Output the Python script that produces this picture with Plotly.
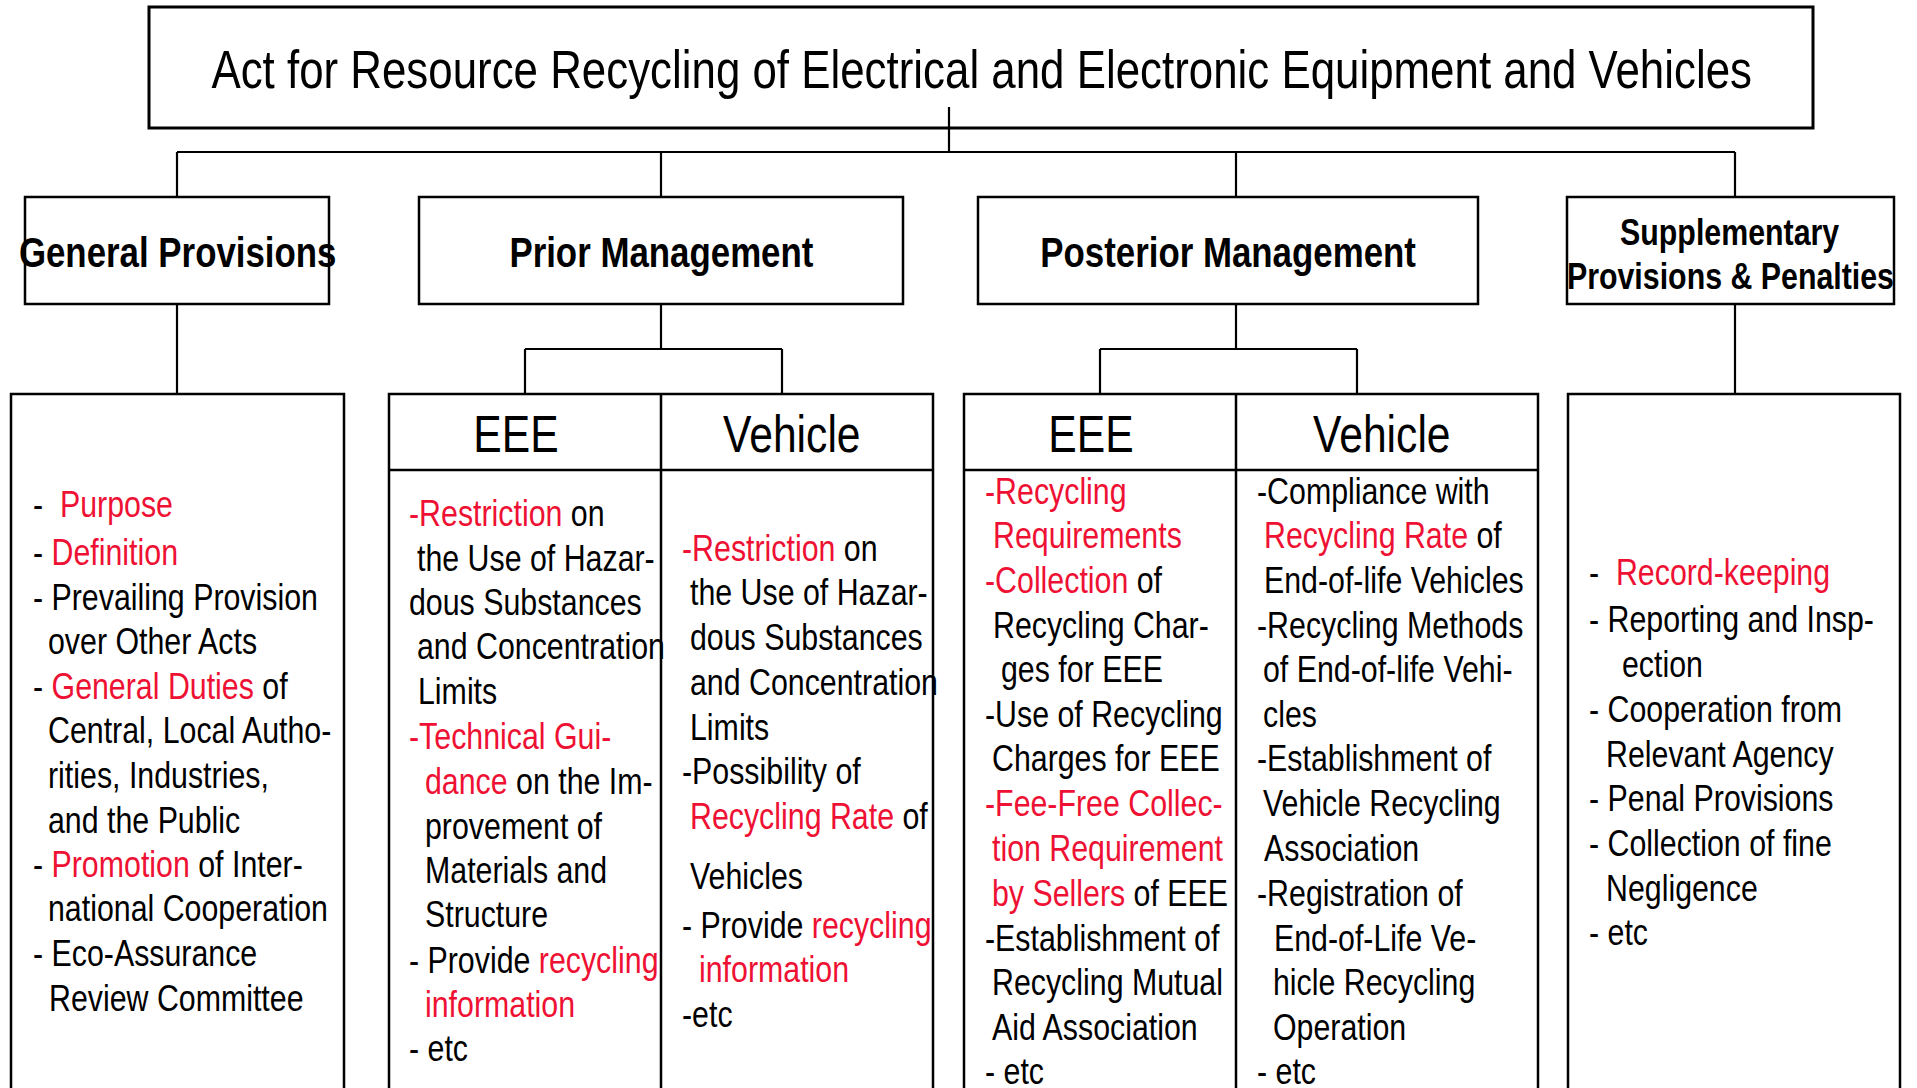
import re
import plotly.graph_objects as go

W, H = 1917, 1088
FONT = "Liberation Sans, Arial, sans-serif"
RED = "#EE1133"
SQUEEZE = 0.82  # emulate Arial Narrow from Arial-metric font

# ---------------- text content ----------------
title = "Act for Resource Recycling of Electrical and Electronic Equipment and Vehicles"
sections = ["General Provisions", "Prior Management", "Posterior Management"]
supp_title = ["Supplementary", "Provisions & Penalties"]
sub_headers = ["EEE", "Vehicle", "EEE", "Vehicle"]

# {...} marks red text
general_lines = ["-\u00a0\u00a0{Purpose}", "- {Definition}", "- Prevailing Provision", "over Other Acts",
                 "- {General Duties} of", "Central, Local Autho-", "rities, Industries,", "and the Public",
                 "- {Promotion} of Inter-", "national Cooperation", "- Eco-Assurance", "Review Committee"]
prior_eee_lines = ["{-Restriction} on", "the Use of Hazar-", "dous Substances", "and Concentration", "Limits",
                   "{-Technical Gui-}", "{dance} on the Im-", "provement of", "Materials and", "Structure",
                   "- Provide {recycling}", "{information}", "- etc"]
prior_veh_lines = ["{-Restriction} on", "the Use of Hazar-", "dous Substances", "and Concentration", "Limits",
                   "-Possibility of", "{Recycling Rate} of", "Vehicles", "- Provide {recycling}",
                   "{information}", "-etc"]
post_eee_lines = ["{-Recycling}", "{Requirements}", "{-Collection} of", "Recycling Char-", "ges for EEE",
                  "-Use of Recycling", "Charges for EEE", "{-Fee-Free Collec-}", "{tion Requirement}",
                  "{by Sellers} of EEE", "-Establishment of", "Recycling Mutual", "Aid Association", "- etc"]
post_veh_lines = ["-Compliance with", "{Recycling Rate} of", "End-of-life Vehicles", "-Recycling Methods",
                  "of End-of-life Vehi-", "cles", "-Establishment of", "Vehicle Recycling", "Association",
                  "-Registration of", "End-of-Life Ve-", "hicle Recycling", "Operation", "- etc"]
supp_lines = ["-\u00a0\u00a0{Record-keeping}", "- Reporting and Insp-", "ection", "- Cooperation from",
              "Relevant Agency", "- Penal Provisions", "- Collection of fine", "Negligence", "- etc"]

# ---------------- layout (pixel positions) ----------------
general_x = [33, 33, 33, 48, 33, 48, 48, 48, 33, 48, 33, 49]
general_y = [504, 552, 597, 641, 686, 730, 775, 820, 864, 908, 953, 998]
prior_eee_x = [409, 417, 409, 417, 418, 409, 425, 425, 425, 425, 409, 425, 409]
prior_eee_y = [513, 558, 602, 646, 691, 736, 781, 826, 870, 914, 960, 1004, 1048]
prior_veh_x = [682, 690, 690, 690, 690, 682, 690, 690, 682, 699, 682]
prior_veh_y = [548, 592, 637, 682, 727, 771, 816, 876, 925, 969, 1014]
post_eee_x = [985, 993, 985, 993, 1001, 985, 992, 985, 992, 992, 985, 992, 992, 985]
post_eee_y = [491, 535, 580, 625, 669, 714, 758, 803, 848, 893, 938, 982, 1027, 1071]
post_veh_x = [1257, 1264, 1264, 1257, 1263, 1263, 1257, 1263, 1264, 1257, 1274, 1273, 1273, 1257]
post_veh_y = post_eee_y
supp_x = [1589, 1589, 1622, 1589, 1606, 1589, 1589, 1606, 1589]
supp_y = [572, 619, 664, 709, 754, 798, 843, 888, 932]


def markup(s):
    return re.sub(r"\{([^}]*)\}", r'<span style="color:%s">\1</span>' % RED, s)


fig = go.Figure()
fig.add_trace(go.Scatter(x=[0, W], y=[0, H], mode="markers", marker=dict(opacity=0), hoverinfo="skip",
                         showlegend=False))

shapes = []


def rect(x0, y0, x1, y1, w=2.5):
    shapes.append(dict(type="rect", x0=x0, y0=y0, x1=x1, y1=y1, line=dict(color="black", width=w),
                       fillcolor="rgba(0,0,0,0)", layer="above"))


def line(x0, y0, x1, y1, w=2.2):
    shapes.append(dict(type="line", x0=x0, y0=y0, x1=x1, y1=y1, line=dict(color="black", width=w),
                       layer="above"))


# boxes
rect(149, 7, 1813, 128, 3)
l2 = [(25, 197, 329, 304), (419, 197, 903, 304), (978, 197, 1478, 304), (1567, 197, 1894, 304)]
for b in l2:
    rect(*b)
BOT = 1110
rect(11, 394, 344, BOT)
rect(389, 394, 933, BOT)
line(661, 394, 661, BOT, 2.5)
line(389, 470, 933, 470, 2.5)
rect(964, 394, 1538, BOT)
line(1236, 394, 1236, BOT, 2.5)
line(964, 470, 1538, 470, 2.5)
rect(1568, 394, 1900, BOT)

# connectors
line(949, 107, 949, 152)
line(177, 152, 1735, 152)
for x in (177, 661, 1236, 1735):
    line(x, 152, x, 197)
line(177, 304, 177, 394)
line(1735, 304, 1735, 394)
line(661, 304, 661, 349)
line(525, 349, 782, 349)
line(525, 349, 525, 394)
line(782, 349, 782, 394)
line(1236, 304, 1236, 349)
line(1100, 349, 1357, 349)
line(1100, 349, 1100, 394)
line(1357, 349, 1357, 394)

ann = []


def text(x, y, s, size, anchor="left", color="black"):
    ann.append(dict(x=x, y=y, xref="x", yref="y", text=s, showarrow=False, xanchor=anchor,
                    align=anchor, yanchor="middle", font=dict(family=FONT, size=size, color=color),
                    borderpad=0, borderwidth=0))


text(981, 69, title, 53.5, "center")
for cx, s in zip([177, 661, 1228], sections):
    text(cx, 252, "<b>%s</b>" % s, 42.5, "center")
text(1730, 232, "<b>%s</b>" % supp_title[0], 37, "center")
text(1730, 276, "<b>%s</b>" % supp_title[1], 37, "center")
for cx, s in zip([516, 792, 1091, 1382], sub_headers):
    text(cx, 434, s, 52, "center")

for xs, ys, lines in [(general_x, general_y, general_lines), (prior_eee_x, prior_eee_y, prior_eee_lines),
                      (prior_veh_x, prior_veh_y, prior_veh_lines), (post_eee_x, post_eee_y, post_eee_lines),
                      (post_veh_x, post_veh_y, post_veh_lines), (supp_x, supp_y, supp_lines)]:
    for x, y, s in zip(xs, ys, lines):
        text(x, y, markup(s), 37)

fig.update_layout(
    width=W, height=H, margin=dict(l=0, r=0, t=0, b=0),
    paper_bgcolor="white", plot_bgcolor="white",
    xaxis=dict(range=[0, W], visible=False, fixedrange=True),
    yaxis=dict(range=[H, 0], visible=False, fixedrange=True),
    shapes=shapes, annotations=ann, showlegend=False,
)

post_js = """
document.body.style.margin = '0';
document.body.style.overflow = 'hidden';
var gd = document.getElementById('{plot_id}');
function squeezeText() {
  var ts = gd.querySelectorAll('text.annotation-text');
  for (var i = 0; i < ts.length; i++) {
    var t = ts[i];
    var x = parseFloat(t.getAttribute('x')) || 0;
    t.setAttribute('transform', 'translate(' + x + ',0) scale(%s,1) translate(' + (-x) + ',0)');
  }
}
squeezeText();
gd.on('plotly_afterplot', squeezeText);
""" % SQUEEZE

fig.write_html("out.html", config={"displayModeBar": False}, post_script=post_js)
